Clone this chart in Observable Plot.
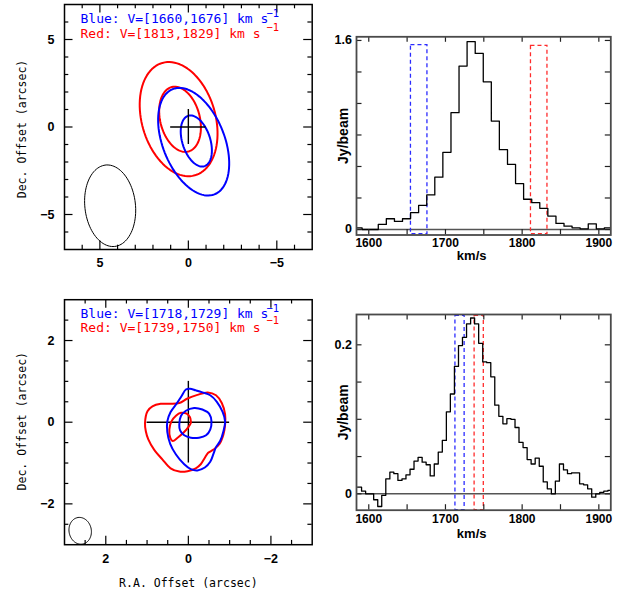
<!DOCTYPE html>
<html><head><meta charset="utf-8">
<script src="https://cdn.jsdelivr.net/npm/d3@7"></script>
<script src="https://cdn.jsdelivr.net/npm/@observablehq/plot@0.6"></script>
<style>
body{margin:0;background:#fff;}
#wrap{position:relative;width:632px;height:592px;overflow:hidden;background:#fff;}
#wrap svg{position:absolute;left:0;top:0;}
</style></head><body><div id="wrap"></div>
<script>
// ================= DATA =================
// Top-left map: fitted contour ellipses (RA offset, Dec offset in arcsec, semi-axes, PA deg E of N)
const tlEllColor = ["red", "red", "blue", "blue"];
const tlEllCx    = [0.55, 0.47, -0.30, -0.45];
const tlEllCy    = [0.45, 0.44, -0.84, -0.80];
const tlEllA     = [3.34, 1.90, 3.23, 1.51];
const tlEllB     = [2.08, 1.12, 1.75, 0.79];
const tlEllPA    = [15.9, 14.0, 21.3, 17.6];
const tlBeam     = {cx: 4.42, cy: -4.5, a: 2.34, b: 1.43, pa: 6.3};
const tlCrossHalf = 1.0;
const tlLegend = ["Blue: V=[1660,1676] km s", "Red: V=[1813,1829] km s"];

// Bottom-left map: contours (RA, Dec arcsec)
const blRedOuterRa  = [1.05,0.99,0.87,0.67,0.43,0.22,0.02,-0.22,-0.47,-0.67,-0.81,-0.89,-0.89,-0.85,-0.75,-0.61,-0.48,-0.40,-0.30,-0.18,0.02,0.22,0.43,0.63,0.83,0.97,1.03];
const blRedOuterDec = [-0.02,0.27,0.39,0.45,0.45,0.47,0.58,0.67,0.73,0.66,0.47,0.19,-0.06,-0.30,-0.54,-0.67,-0.75,-0.87,-1.03,-1.13,-1.20,-1.21,-1.13,-0.91,-0.67,-0.42,-0.22];
const blRedInnerRa  = [-0.06,-0.04,0.04,0.18,0.30,0.41,0.46,0.44,0.38,0.26,0.12,0.0,-0.06];
const blRedInnerDec = [0.02,0.12,0.21,0.23,0.16,0.02,-0.18,-0.38,-0.46,-0.38,-0.26,-0.12,-0.02];
const blBlueOuterRa  = [0.06,-0.04,-0.18,-0.34,-0.53,-0.69,-0.83,-0.89,-0.85,-0.77,-0.67,-0.61,-0.53,-0.40,-0.22,-0.06,0.10,0.30,0.44,0.51,0.51,0.43,0.28,0.17];
const blBlueOuterDec = [0.80,0.82,0.78,0.73,0.66,0.50,0.25,0.02,-0.22,-0.46,-0.61,-0.77,-0.97,-1.11,-1.18,-1.15,-1.03,-0.79,-0.53,-0.24,0.02,0.25,0.46,0.63];
const blBlueInnerRa  = [0.22,0.18,0.06,-0.14,-0.34,-0.51,-0.56,-0.53,-0.43,-0.26,-0.06,0.10,0.20];
const blBlueInnerDec = [-0.06,0.15,0.28,0.35,0.31,0.20,0.02,-0.18,-0.32,-0.38,-0.38,-0.32,-0.20];
const blBeam = {cx: 2.62, cy: -2.66, a: 0.33, b: 0.27, pa: 10};
const blCrossHalf = 1.0;
const blLegend = ["Blue: V=[1718,1729] km s", "Red: V=[1739,1750] km s"];

// Top-right spectrum: channel edges (km/s) and flux (Jy/beam)
const trEdges = [1580.8,1591.3,1601.9,1612.4,1622.9,1633.5,1644.0,1654.5,1665.0,1675.6,1686.1,1696.6,1707.2,1717.7,1728.2,1738.8,1749.3,1759.8,1770.3,1780.9,1791.4,1801.9,1812.5,1823.0,1833.5,1844.1,1854.6,1865.1,1875.6,1886.2,1896.7,1907.2,1917.8];
const trFlux  = [0.014,0.0,0.0,0.043,0.091,0.068,0.091,0.142,0.205,0.293,0.443,0.653,0.989,1.383,1.591,1.49,1.25,0.918,0.676,0.551,0.389,0.256,0.227,0.179,0.114,0.051,0.028,0.014,0.006,0.048,0.006,0.014];
const trBoxes = [{v1:1655, v2:1676.5, top:1.56, c:"#2b2bff"}, {v1:1811.5, v2:1833, top:1.555, c:"#ff2b2b"}];

// Bottom-right spectrum
const brEdges = [1585.3,1590.6,1595.9,1601.1,1606.4,1611.7,1616.9,1622.2,1627.5,1632.7,1638.0,1643.3,1648.5,1653.8,1659.0,1664.3,1669.6,1674.8,1680.1,1685.4,1690.6,1695.9,1701.2,1706.4,1711.7,1717.0,1722.2,1727.5,1732.8,1738.0,1743.3,1748.6,1753.8,1759.1,1764.3,1769.6,1774.9,1780.1,1785.4,1790.7,1795.9,1801.2,1806.5,1811.7,1817.0,1822.3,1827.5,1832.8,1838.1,1843.3,1848.6,1853.9,1859.1,1864.4,1869.6,1874.9,1880.2,1885.4,1890.7,1896.0,1901.2,1906.5,1911.8,1917.0];
const brFlux  = [0.009,0.0036,0.0,0.0,-0.008,-0.017,-0.002,0.020,0.029,0.027,0.018,0.020,0.0255,0.033,0.044,0.049,0.0425,0.039,0.024,0.040,0.056,0.0716,0.110,0.134,0.171,0.199,0.210,0.228,0.236,0.228,0.202,0.177,0.176,0.157,0.119,0.104,0.094,0.101,0.100,0.089,0.069,0.062,0.046,0.040,0.048,0.037,0.016,0.0067,0.0,0.017,0.040,0.032,0.027,0.028,0.028,0.0134,0.012,0.0067,-0.0045,0.0,0.002,0.0036,0.0045];
const brBoxes = [{v1:1713, v2:1725, c:"#2b2bff"}, {v1:1738, v2:1750, c:"#ff2b2b"}];

// Ticks and labels
const tlMajor = [-5, 0, 5];
const tlMinor = [-6,-4,-3,-2,-1,1,2,3,4,6];
const blMajor = [-2, 0, 2];
const blMinor = [-2.5,-1.5,-1,-0.5,0.5,1,1.5,2.5];
const specXTicks  = [1600,1650,1700,1750,1800,1850,1900];
const specXLabels = [1600,1700,1800,1900];
const trYTicks  = [0,0.2667,0.5333,0.8,1.0667,1.3333,1.6];
const trYLabels = [0, 1.6];
const brYTicks  = [0,0.05,0.1,0.15,0.2];
const brYLabels = [0, 0.2];

// ================= DRAWING =================
const W = 632, H = 592;
const mono = "DejaVu Sans Mono, monospace";
const sans = "Liberation Sans, Arial, Helvetica, sans-serif";
const fmtInt = d3.format("d");

function ellipseRows(cx, cy, a, b, pa) {
  const p = pa * Math.PI / 180, rows = [];
  for (let i = 0; i < 96; i++) {
    const t = 2 * Math.PI * i / 96;
    rows.push({x: cx + a*Math.cos(t)*Math.sin(p) + b*Math.sin(t)*Math.cos(p),
               y: cy + a*Math.cos(t)*Math.cos(p) - b*Math.sin(t)*Math.sin(p)});
  }
  return rows;
}
const zip = (xs, ys) => xs.map((x, i) => ({x, y: ys[i]}));

function insideTicks(xs, ys, len, fw, fh, stroke, sw) {
  return [
    Plot.tickX(xs, {x: d => d, insetTop: fh - len, stroke, strokeWidth: sw}),
    Plot.tickX(xs, {x: d => d, insetBottom: fh - len, stroke, strokeWidth: sw}),
    Plot.tickY(ys, {y: d => d, insetRight: fw - len, stroke, strokeWidth: sw}),
    Plot.tickY(ys, {y: d => d, insetLeft: fw - len, stroke, strokeWidth: sw})
  ];
}

function framePlot(f, xDomain, yDomain, marks) {
  return Plot.plot({
    width: W, height: H,
    marginLeft: f.L, marginRight: W - f.R, marginTop: f.T, marginBottom: H - f.B,
    x: {domain: xDomain}, y: {domain: yDomain},
    style: {background: "transparent", overflow: "visible", color: "black"},
    marks
  });
}

function legendMarks(lines, sizes) {
  const cols = ["blue", "red"];
  const out = [];
  lines.forEach((t, i) => {
    out.push(Plot.text([t], {text: d => d, frameAnchor: "top-left", textAnchor: "start", lineAnchor: "middle",
      dx: 16, dy: sizes.main[i], fill: cols[i], fontFamily: mono, fontSize: 13}));
    out.push(Plot.text(["\u22121"], {text: d => d, frameAnchor: "top-left", textAnchor: "start", lineAnchor: "middle",
      dx: 202, dy: sizes.sup[i], fill: cols[i], fontFamily: mono, fontSize: 10.5}));
  });
  return out;
}

const wrap = document.getElementById("wrap");

// ---------- Top-left ----------
{
  const f = {L: 64, R: 311.7, T: 4, B: 249};
  const fw = f.R - f.L, fh = f.B - f.T;
  const marks = [];
  tlEllColor.forEach((c, i) => {
    marks.push(Plot.line(ellipseRows(tlEllCx[i], tlEllCy[i], tlEllA[i], tlEllB[i], tlEllPA[i]),
      {x: "x", y: "y", curve: "linear-closed", stroke: c, strokeWidth: 2}));
  });
  marks.push(Plot.line(ellipseRows(tlBeam.cx, tlBeam.cy, tlBeam.a, tlBeam.b, tlBeam.pa),
    {x: "x", y: "y", curve: "linear-closed", stroke: "black", strokeWidth: 1}));
  marks.push(Plot.ruleX([{x: 0, y1: -tlCrossHalf, y2: tlCrossHalf}], {x: "x", y1: "y1", y2: "y2", stroke: "black", strokeWidth: 1.4}));
  marks.push(Plot.ruleY([{y: 0, x1: -tlCrossHalf, x2: tlCrossHalf}], {y: "y", x1: "x1", x2: "x2", stroke: "black", strokeWidth: 1.4}));
  marks.push(...insideTicks(tlMajor, tlMajor, 8.5, fw, fh, "black", 1.2));
  marks.push(...insideTicks(tlMinor, tlMinor, 4.3, fw, fh, "black", 1.2));
  marks.push(Plot.frame({stroke: "black", strokeWidth: 1.5}));
  marks.push(Plot.axisX(tlMajor, {anchor: "bottom", tickSize: 0, tickPadding: 8.5, tickFormat: fmtInt, label: null, fontSize: 12.5, fontWeight: "bold", fontFamily: sans}));
  marks.push(Plot.axisY(tlMajor, {anchor: "left", tickSize: 0, tickPadding: 10, tickFormat: fmtInt, label: null, fontSize: 12.5, fontWeight: "bold", fontFamily: sans}));
  marks.push(Plot.text(["Dec. Offset (arcsec)"], {text: d => d, frameAnchor: "left", textAnchor: "middle", lineAnchor: "middle", rotate: -90, dx: -42.3, dy: 2, fontFamily: mono, fontSize: 11.5, fill: "black"}));
  marks.push(...legendMarks(tlLegend, {main: [14.3, 29], sup: [8.7, 23]}));
  wrap.appendChild(framePlot(f, [7, -7], [-7, 7], marks));
}

// ---------- Bottom-left ----------
{
  const f = {L: 64, R: 311.7, T: 299.2, B: 544.2};
  const fw = f.R - f.L, fh = f.B - f.T;
  const marks = [];
  const contours = [
    [blRedOuterRa, blRedOuterDec, "red"], [blRedInnerRa, blRedInnerDec, "red"],
    [blBlueOuterRa, blBlueOuterDec, "blue"], [blBlueInnerRa, blBlueInnerDec, "blue"]
  ];
  marks.push(Plot.ruleX([{x: 0, y1: -blCrossHalf, y2: blCrossHalf}], {x: "x", y1: "y1", y2: "y2", stroke: "black", strokeWidth: 1.4}));
  marks.push(Plot.ruleY([{y: 0, x1: -blCrossHalf, x2: blCrossHalf}], {y: "y", x1: "x1", x2: "x2", stroke: "black", strokeWidth: 1.4}));
  contours.forEach(([xs, ys, c]) => {
    marks.push(Plot.line(zip(xs, ys), {x: "x", y: "y", curve: "catmull-rom-closed", stroke: c, strokeWidth: 2}));
  });
  marks.push(Plot.line(ellipseRows(blBeam.cx, blBeam.cy, blBeam.a, blBeam.b, blBeam.pa),
    {x: "x", y: "y", curve: "linear-closed", stroke: "black", strokeWidth: 1}));
  marks.push(...insideTicks(blMajor, blMajor, 8.5, fw, fh, "black", 1.2));
  marks.push(...insideTicks(blMinor, blMinor, 4.3, fw, fh, "black", 1.2));
  marks.push(Plot.frame({stroke: "black", strokeWidth: 1.5}));
  marks.push(Plot.axisX(blMajor, {anchor: "bottom", tickSize: 0, tickPadding: 9.5, tickFormat: fmtInt, label: null, fontSize: 12.5, fontWeight: "bold", fontFamily: sans}));
  marks.push(Plot.axisY(blMajor, {anchor: "left", tickSize: 0, tickPadding: 10, tickFormat: fmtInt, label: null, fontSize: 12.5, fontWeight: "bold", fontFamily: sans}));
  marks.push(Plot.text(["Dec. Offset (arcsec)"], {text: d => d, frameAnchor: "left", textAnchor: "middle", lineAnchor: "middle", rotate: -90, dx: -42.3, dy: -1, fontFamily: mono, fontSize: 11.5, fill: "black"}));
  marks.push(Plot.text(["R.A. Offset (arcsec)"], {text: d => d, frameAnchor: "bottom", textAnchor: "middle", lineAnchor: "middle", dy: 38.3, fontFamily: mono, fontSize: 11.5, fill: "black"}));
  marks.push(...legendMarks(blLegend, {main: [14.3, 28.3], sup: [8.8, 21.3]}));
  wrap.appendChild(framePlot(f, [3, -3], [-3, 3], marks));
}

// ---------- spectra ----------
function stepRows(edges, flux) {
  return edges.map((e, i) => ({v: e, f: flux[Math.min(i, flux.length - 1)]}));
}
function specPlot(f, yDomain, yTicks, yLabels, yPad, xPad, edges, flux, boxMarks, kmDy) {
  const fw = f.R - f.L, fh = f.B - f.T;
  const marks = [
    Plot.ruleY([0], {stroke: "#555", strokeWidth: 1.5}),
    ...boxMarks,
    Plot.line(stepRows(edges, flux), {x: "v", y: "f", curve: "step-after", stroke: "black", strokeWidth: 1.3, clip: true}),
    ...insideTicks(specXTicks, yTicks, 5.5, fw, fh, "#222", 1.2),
    Plot.frame({stroke: "#4a4a4a", strokeWidth: 1.8}),
    Plot.axisX(specXLabels, {anchor: "bottom", tickSize: 0, tickPadding: xPad, tickFormat: fmtInt, label: null, fontSize: 12, fontWeight: "bold", fontFamily: sans}),
    Plot.axisY(yLabels, {anchor: "left", tickSize: 0, tickPadding: yPad, tickFormat: d => d === 0 ? "0" : String(d), label: null, fontSize: 12.5, fontWeight: "bold", fontFamily: sans}),
    Plot.text(["Jy/beam"], {text: d => d, frameAnchor: "left", textAnchor: "middle", lineAnchor: "middle", rotate: -90, dx: -12.7, fontFamily: sans, fontWeight: "bold", fontSize: 14, fill: "black"}),
    Plot.text(["km/s"], {text: d => d, frameAnchor: "bottom", textAnchor: "middle", lineAnchor: "middle", dx: -12, dy: kmDy, fontFamily: sans, fontWeight: "bold", fontSize: 13, fill: "black"})
  ];
  return framePlot(f, [1584, 1915.6], yDomain, marks);
}

{
  const f = {L: 356, R: 610.3, T: 36.3, B: 234.5};
  const boxes = trBoxes.map(b => Plot.rect([b], {x1: "v1", x2: "v2", y1: () => -0.04, y2: "top", fill: "none", stroke: b.c, strokeWidth: 1.3, strokeDasharray: "4,3"}));
  wrap.appendChild(specPlot(f, [-0.0466, 1.631], trYTicks, trYLabels, 4.5, 3.3, trEdges, trFlux, boxes, 20.5));
}
{
  const f = {L: 356, R: 610.3, T: 314, B: 509.7};
  const boxes = brBoxes.map(b => Plot.rect([b], {x1: "v1", x2: "v2", y1: () => -0.022, y2: () => 0.239, fill: "none", stroke: b.c, strokeWidth: 1.3, strokeDasharray: "4,3"}));
  wrap.appendChild(specPlot(f, [-0.022, 0.2407], brYTicks, brYLabels, 4.5, 4.4, brEdges, brFlux, boxes, 24));
}
</script>
</body></html>
